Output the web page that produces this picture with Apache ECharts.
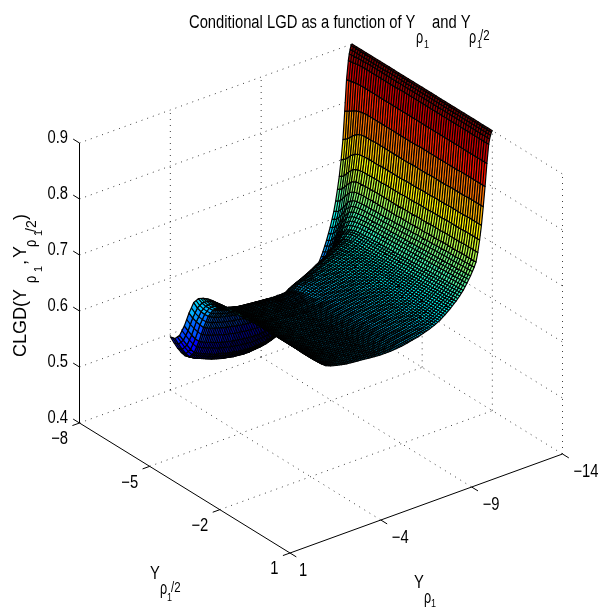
<!DOCTYPE html>
<html><head><meta charset="utf-8">
<style>html,body{margin:0;padding:0;background:#fff}#c{width:600px;height:607px}</style>
<script src="https://cdn.jsdelivr.net/npm/echarts@6/dist/echarts.min.js"></script>
</head><body><div id="c"></div>
<script>
const Y1_TICKS=[1,-4,-9,-14];
const Y2_TICKS=[-8,-5,-2,1];
const Z_TICKS=[0.4,0.5,0.6,0.7,0.8,0.9];
const Y2_COLS=[-8,-7.8,-7.6,-7.4,-7.2,-7,-6.8,-6.6,-6.4,-6.2,-6,-5.8,-5.6,-5.4,-5.2,-5,-4.8,-4.6,-4.4,-4.2,-4,-3.8,-3.6,-3.4,-3.2,-3,-2.8,-2.6,-2.4,-2.2,-2];
const Y1_ROWS=[-14,-13.95,-13.9,-13.85,-13.8,-13.7,-13.6,-13.5,-13.4,-13.3,-13.2,-13.1,-13,-12.8,-12.6,-12.4,-12.2,-12,-11.7,-11.4,-11.1,-10.8,-10.5,-10.2,-9.9,-9.6,-9.3,-9,-8.7,-8.4,-8.1,-7.8,-7.5,-7.2,-6.9,-6.6,-6.3,-6,-5.7,-5.4,-5.1,-4.8,-4.6,-4.4,-4.2,-4];
// CLGD in thousandths, one line per Y1 row, one column per Y2 value
const CLGD=[
[900,900,900,900,900,900,900,900,900,900,900,900,900,900,900,900,900,900,900,900,900,900,900,900,900,900,900,900,900,900,900],
[898,898,898,898,898,898,898,898,898,898,898,898,898,898,898,898,898,898,898,898,898,898,898,898,898,898,898,898,898,898,898],
[892,892,892,892,892,892,892,892,893,893,893,893,893,893,893,893,893,893,893,893,893,893,893,893,893,893,893,893,893,893,893],
[884,885,886,886,887,887,887,887,887,887,887,887,887,887,887,887,887,887,887,887,887,887,887,887,887,887,887,887,887,887,887],
[873,874,876,877,877,877,877,877,877,877,877,878,878,878,878,878,878,878,878,878,878,878,878,878,878,878,878,878,878,878,878],
[840,842,844,845,845,845,845,845,845,845,845,845,845,845,845,845,845,845,845,845,845,845,845,845,845,845,845,845,845,845,845],
[785,790,796,800,802,803,803,803,803,803,803,803,803,803,803,803,804,804,804,804,804,804,804,804,804,805,805,805,805,805,805],
[735,742,752,760,764,765,765,766,766,766,766,766,766,766,766,767,767,767,767,768,768,768,768,769,769,769,769,770,770,770,770],
[700,707,718,726,730,731,732,732,732,733,733,733,733,733,734,734,734,735,735,735,736,736,736,737,737,737,737,738,738,738,738],
[672,678,690,700,704,706,706,707,707,707,708,708,708,708,709,709,709,710,710,710,711,711,711,712,712,712,712,713,713,713,713],
[650,656,668,679,684,685,686,686,687,687,687,687,687,687,688,688,688,689,689,689,690,690,690,691,691,691,691,692,692,692,692],
[630,636,649,661,667,669,670,670,671,671,671,671,671,671,672,672,672,673,673,673,674,674,674,675,675,675,675,676,676,676,676],
[613,618,630,645,653,656,657,658,658,659,659,659,660,660,661,661,662,662,663,663,664,664,665,665,666,666,666,667,667,668,668],
[587,592,605,622,634,640,642,643,644,644,645,645,646,646,647,647,648,648,649,649,650,650,651,651,652,652,653,653,654,654,655],
[566,571,584,603,618,626,630,632,633,634,634,635,635,636,636,637,637,638,638,639,639,640,640,641,641,642,642,643,643,644,644],
[548,553,566,586,603,613,618,621,622,623,624,624,625,625,626,626,627,627,628,628,629,629,630,630,631,631,632,632,633,633,634],
[533,538,553,575,595,607,613,616,617,617,618,618,619,619,620,620,620,621,621,622,622,622,623,623,624,624,625,625,625,626,626],
[520,525,540,562,584,598,606,610,612,612,612,612,613,613,613,614,614,614,615,615,615,616,616,616,617,617,618,618,618,619,619],
[503,507,522,547,573,590,600,605,607,607,607,607,607,607,608,608,608,608,608,609,609,609,609,609,609,609,610,610,610,610,610],
[488,492,507,533,563,583,594,600,602,603,603,603,603,603,603,603,603,603,603,603,603,603,603,602,602,602,602,602,602,602,602],
[475,479,494,521,553,575,588,595,598,599,599,599,599,598,598,598,598,598,597,597,597,597,597,596,596,596,596,596,595,595,595],
[464,468,483,511,545,569,583,591,594,595,595,595,595,594,594,594,594,593,593,593,593,592,592,592,592,591,591,591,590,590,590],
[454,458,473,502,536,562,578,586,590,591,591,591,591,590,590,590,590,589,589,589,589,588,588,588,587,587,587,587,586,586,586],
[446,449,465,494,528,555,572,582,586,588,588,588,588,587,587,587,586,586,586,586,585,585,585,585,584,584,584,584,583,583,583],
[439,442,458,488,522,549,567,577,582,585,585,585,585,584,584,584,583,583,583,583,582,582,582,581,581,581,581,580,580,580,580],
[433,436,452,481,516,544,562,573,578,581,582,582,582,581,581,581,581,580,580,580,580,579,579,579,579,579,578,578,578,578,578],
[429,432,448,477,511,540,558,569,575,578,579,579,579,578,578,578,578,578,577,577,577,577,577,577,576,576,576,576,576,576,576],
[426,429,445,473,507,535,553,564,571,574,575,575,575,575,575,575,575,575,575,575,575,574,574,574,574,574,574,574,574,574,574],
[424,427,442,469,501,528,546,557,563,567,569,570,571,572,572,573,573,573,573,573,573,573,573,573,573,573,573,573,573,573,573],
[423,426,441,468,500,527,545,556,562,566,568,569,570,571,571,572,572,572,572,572,572,572,572,572,572,572,572,572,572,572,572],
[422,425,440,467,500,527,545,556,562,566,568,569,570,571,571,572,572,572,572,572,572,572,572,572,572,572,572,572,572,572,572],
[422,425,440,467,500,527,545,556,562,566,568,569,570,571,571,572,572,572,572,572,572,572,572,572,572,572,572,572,572,572,572],
[423,426,441,468,501,528,546,557,563,567,569,570,571,572,572,573,573,573,573,573,573,573,573,573,573,573,573,573,573,573,573],
[424,427,442,469,502,529,547,558,564,568,570,571,572,573,573,574,574,574,574,574,574,574,574,574,574,574,574,574,574,574,574],
[426,429,444,471,503,530,548,559,565,569,571,572,573,574,574,575,575,575,575,575,575,575,575,575,575,575,575,575,575,575,575],
[428,431,446,472,505,532,549,560,566,570,572,573,574,575,575,576,576,576,576,576,576,576,576,576,576,576,576,576,576,576,576],
[431,434,449,475,507,533,551,561,567,571,573,574,575,576,576,577,577,577,577,577,577,577,577,577,577,577,577,577,577,577,577],
[434,437,451,477,509,535,552,562,568,572,574,575,576,577,577,578,578,578,578,578,578,578,578,578,578,578,578,578,578,578,578],
[438,441,455,481,512,537,554,564,570,574,576,577,578,579,579,580,580,580,580,580,580,580,580,580,580,580,580,580,580,580,580],
[442,445,459,484,515,540,557,567,572,576,578,579,580,581,581,582,582,582,582,582,582,582,582,582,582,582,582,582,582,582,582],
[446,449,463,488,518,543,560,570,575,579,581,582,583,584,584,585,585,585,585,585,585,585,585,585,585,585,585,585,585,585,585],
[452,455,468,493,523,548,564,574,579,583,585,586,587,588,588,589,589,589,589,589,589,589,589,589,589,589,589,589,589,589,589],
[460,463,476,500,530,554,570,579,584,588,590,591,592,593,593,594,594,594,594,594,594,594,594,594,594,594,594,594,594,594,594],
[470,473,486,509,538,561,576,585,590,594,596,597,598,599,599,600,600,600,600,600,600,600,600,600,600,600,600,600,600,600,600],
[482,485,497,519,547,570,584,592,597,600,602,603,604,605,606,606,607,607,608,608,608,608,608,608,607,607,607,607,606,606,606],
[495,497,508,530,558,582,594,600,604,606,607,607,607,607,608,609,610,611,612,613,614,614,614,614,614,614,613,613,612,612,612]
];
const TITLE_TEXT="Conditional LGD as a function of Y";
const Z_TITLE="CLGD(Y";

// orthographic view of the axes box (az/el)
const BOX={y2:[-8,1],y1:[1,-14],z:[0.4,0.9]};
const VIEW={o:[79.5,423],u:[210.5,130],v:[272.5,-99],w:[0,-280],depth:[0.686,-0.53,0.5]};
const toU=y2=>(y2-BOX.y2[0])/(BOX.y2[1]-BOX.y2[0]);
const toV=y1=>(y1-BOX.y1[0])/(BOX.y1[1]-BOX.y1[0]);
const toW=z=>(z-BOX.z[0])/(BOX.z[1]-BOX.z[0]);
function project(y2,y1,z){const u=toU(y2),v=toV(y1),w=toW(z);
  return [VIEW.o[0]+VIEW.u[0]*u+VIEW.v[0]*v+VIEW.w[0]*w, VIEW.o[1]+VIEW.u[1]*u+VIEW.v[1]*v+VIEW.w[1]*w];}
function jet(t){t=Math.max(0,Math.min(1,Math.floor(t*64)/63));
  const f=(a)=>Math.max(0,Math.min(1,1.5-Math.abs(4*t-a)));
  const c=[f(3),f(2),f(1)];return 'rgb('+c.map(x=>Math.round(x*255)).join(',')+')';}
const Z_MIN=0.42,Z_MAX=0.9;
const MESH_STEP=0.1; // the drawn wireframe pitch in the picture
const cells=[];
for(let r=0;r<Y1_ROWS.length-1;r++)for(let c=0;c<Y2_COLS.length-1;c++){
  const zs=[CLGD[r][c],CLGD[r][c+1],CLGD[r+1][c+1],CLGD[r+1][c]].map(x=>x/1000);
  const zm=(zs[0]+zs[1]+zs[2]+zs[3])/4;
  const d=VIEW.depth[0]*toU((Y2_COLS[c]+Y2_COLS[c+1])/2)+VIEW.depth[1]*toV((Y1_ROWS[r]+Y1_ROWS[r+1])/2)+VIEW.depth[2]*toW(zm);
  cells.push({d,value:[Y1_ROWS[r],Y1_ROWS[r+1],Y2_COLS[c],Y2_COLS[c+1],zs[0],zs[1],zs[2],zs[3],zm]});
}
cells.sort((a,b)=>a.d-b.d);

// dotted grid
const dots=[];
const [a0,a1]=BOX.y2,[b0,b1]=BOX.y1,[c0,c1]=BOX.z;
Z_TICKS.filter(z=>z!==c0).forEach(z=>{dots.push([a0,b0,z,a0,b1,z]);dots.push([a0,b1,z,a1,b1,z]);});
Y1_TICKS.filter(y=>y!==b0).forEach(y=>{dots.push([a0,y,c0,a1,y,c0]);if(y!==b1)dots.push([a0,y,c0,a0,y,c1]);});
Y2_TICKS.filter(y=>y!==a1).forEach(y=>dots.push([y,b0,c0,y,b1,c0]));
Y2_TICKS.forEach(y=>dots.push([y,b1,c0,y,b1,c1]));
// axes and ticks
const solids=[[a0,b0,c0,a0,b0,c1],[a0,b0,c0,a1,b0,c0],[a1,b0,c0,a1,b1,c0]];
const tickU=0.03,tickV=0.026;
Z_TICKS.forEach(z=>solids.push([a0,b0,z,a0-(a1-a0)*tickU,b0,z]));
Y2_TICKS.forEach(y=>solids.push([y,b0,c0,y,b0-(b1-b0)*tickV,c0]));
Y1_TICKS.forEach(y=>solids.push([a1,y,c0,a1+(a1-a0)*tickU,y,c0]));

const minus=s=>String(s).replace('-','\u2212');
const NARROW=0.82;
const texts=[];
function T(t,x,y,size,align,sx,rot){texts.push({t,x,y,size,align:align||'left',sx:sx==null?NARROW:sx,rot:rot||0});}
Z_TICKS.forEach(z=>{const p=project(a0,b0,z);T(z.toFixed(1),p[0]-11.5,p[1]-5,18,'right');});
Y2_TICKS.forEach(y=>{const p=project(y,b0,c0);T(minus(y),p[0]-11.5,p[1]+16.5,18,'right');});
Y1_TICKS.forEach(y=>{const p=project(a1,y,c0);T(minus(y),p[0]+(y===1?9:11),p[1]+18.5,18,'left');});
T(TITLE_TEXT,189,23,18);
T('\u03c1',416,38,18,'left',0.7);T('1',424,45,11);
T('and Y',432,23,18);
T('\u03c1',469,38,18,'left',0.7);T('1',477,45,11);T('/2',480,36,14);
T('Y',150,574,18);T('\u03c1',160,589,18,'left',0.7);T('1',167,598,11);T('/2',171,588,14);
T('Y',414,583,18);T('\u03c1',424,598,18,'left',0.7);T('1',431,604,11);
const R=Math.PI/2;
T(Z_TITLE,21,357,18,'left',1,R);
T('\u03c1',32,283,16,'left',0.8,R);T('1',39,272,11,'left',1,R);
T(',',21,265,18,'left',1,R);
T('Y',21,258,18,'left',1,R);
T('\u03c1',32,247,16,'left',0.8,R);T('1',39,236,11,'left',1,R);T('/2',32,232,14,'left',1,R);
T(')',21,220,18,'left',1,R);

function segSeries(list,style){return {type:'custom',coordinateSystem:'cartesian2d',silent:true,clip:false,
  data:list.map(s=>({value:s})),
  renderItem(p,api){const a=api.coord(project(api.value(0),api.value(1),api.value(2)));
    const b=api.coord(project(api.value(3),api.value(4),api.value(5)));
    return {type:'line',shape:{x1:a[0],y1:a[1],x2:b[0],y2:b[1]},style};}};}

const ROW_LINE={stroke:'#000',lineWidth:1.3};
const COL_LINE={stroke:'#000',lineWidth:1.15};
const chart=echarts.init(document.getElementById('c'),null,{renderer:'canvas'});
chart.setOption({animation:false,backgroundColor:'#fff',
 grid:{left:0,right:0,top:0,bottom:0},
 xAxis:{type:'value',min:0,max:600,show:false},
 yAxis:{type:'value',min:0,max:607,inverse:true,show:false},
 tooltip:{show:false},
 series:[
  segSeries(dots,{stroke:'#000',lineWidth:1,lineDash:[1,5],opacity:.75}),
  {type:'custom',coordinateSystem:'cartesian2d',silent:true,clip:false,progressive:0,
   data:cells.map(c=>({value:c.value})),
   renderItem(p,api){
     const y1a=api.value(0),y1b=api.value(1),y2a=api.value(2),y2b=api.value(3);
     const pts=[project(y2a,y1a,api.value(4)),project(y2b,y1a,api.value(5)),project(y2b,y1b,api.value(6)),project(y2a,y1b,api.value(7))].map(q=>api.coord(q));
     const children=[{type:'polygon',shape:{points:pts},style:{fill:jet((api.value(8)-Z_MIN)/(Z_MAX-Z_MIN)),stroke:'#000',lineWidth:1.2,lineJoin:'round'}}];
     const mix=(a,b,t)=>[a[0]+(b[0]-a[0])*t,a[1]+(b[1]-a[1])*t];
     const nc=Math.round(Math.abs(y2b-y2a)/MESH_STEP),nr=y1a>=-4.9?1:Math.max(1,Math.round(Math.abs(y1b-y1a)/MESH_STEP));
     for(let i=1;i<nc;i++){const s=mix(pts[0],pts[1],i/nc),e=mix(pts[3],pts[2],i/nc);
       children.push({type:'line',shape:{x1:s[0],y1:s[1],x2:e[0],y2:e[1]},style:COL_LINE});}
     for(let i=1;i<nr;i++){const s=mix(pts[0],pts[3],i/nr),e=mix(pts[1],pts[2],i/nr);
       children.push({type:'line',shape:{x1:s[0],y1:s[1],x2:e[0],y2:e[1]},style:ROW_LINE});}
     return {type:'group',children};
   }},
  segSeries(solids,{stroke:'#000',lineWidth:1}),
  {type:'custom',coordinateSystem:'cartesian2d',silent:true,clip:false,
   data:texts.map((t,i)=>({value:[t.x,t.y,i]})),
   renderItem(p,api){const t=texts[api.value(2)],q=api.coord([api.value(0),api.value(1)]);
     return {type:'text',x:q[0],y:q[1],rotation:t.rot,scaleX:t.sx,
       style:{text:t.t,fill:'#000',font:t.size+'px "Liberation Sans"',textAlign:t.align,textVerticalAlign:'middle'}};}}
 ]});
</script></body></html>
